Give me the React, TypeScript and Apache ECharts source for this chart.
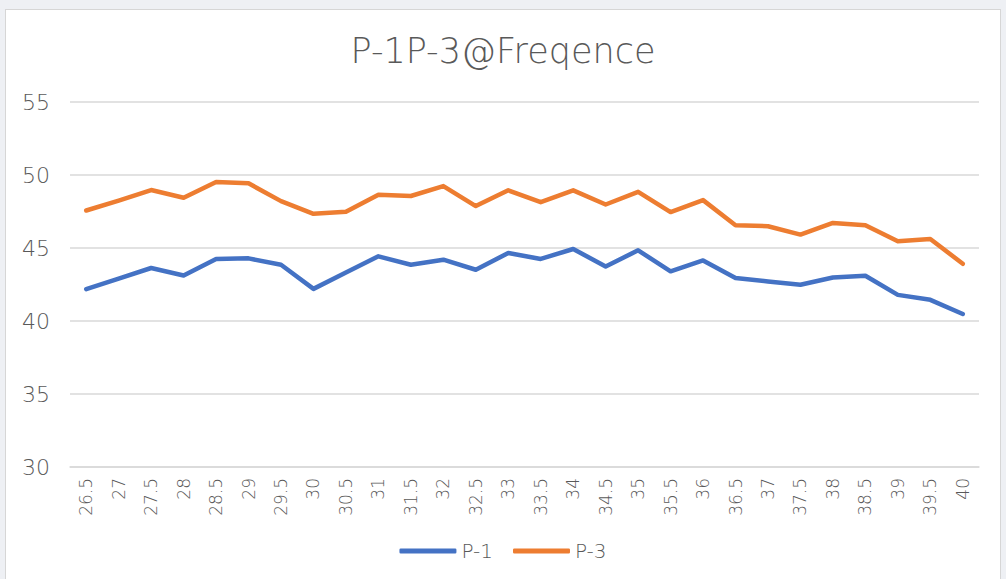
import React, { useEffect, useRef } from "react";
import * as echarts from "echarts";

const categories: string[] = [
  "26.5", "27", "27.5", "28", "28.5", "29", "29.5", "30", "30.5", "31",
  "31.5", "32", "32.5", "33", "33.5", "34", "34.5", "35", "35.5", "36",
  "36.5", "37", "37.5", "38", "38.5", "39", "39.5", "40",
];

const p1Values: number[] = [
  42.18, 42.9, 43.63, 43.12, 44.25, 44.29, 43.85, 42.2, 43.33, 44.43,
  43.85, 44.2, 43.51, 44.66, 44.25, 44.93, 43.74, 44.84, 43.4, 44.15,
  42.94, 42.71, 42.48, 42.98, 43.1, 41.79, 41.45, 40.48,
];

const p3Values: number[] = [
  47.57, 48.25, 48.97, 48.44, 49.52, 49.43, 48.21, 47.34, 47.48, 48.65,
  48.56, 49.24, 47.87, 48.95, 48.14, 48.95, 47.98, 48.85, 47.46, 48.28,
  46.56, 46.49, 45.92, 46.72, 46.56, 45.46, 45.62, 43.92,
];

const seriesNames: string[] = ["P-1", "P-3"];
const titleText = "P-1P-3@Freqence";

const FONT = "'DejaVu Sans', sans-serif";

export default function App() {
  const ref = useRef<HTMLDivElement>(null);

  useEffect(() => {
    if (!ref.current) return;
    const chart = echarts.init(ref.current, undefined, { renderer: "svg" });
    chart.setOption({
      animation: false,
      textStyle: { fontFamily: FONT },
      title: {
        text: titleText,
        left: "center",
        top: 28,
        textStyle: {
          fontFamily: FONT,
          fontSize: 35,
          fontWeight: 200,
          color: "#595959",
        },
      },
      legend: {
        bottom: 13,
        left: "center",
        itemWidth: 57,
        itemHeight: 5,
        itemGap: 20,
        icon: "roundRect",
        data: seriesNames,
        textStyle: { fontFamily: FONT, fontSize: 20, color: "#595959", fontWeight: 200 },
      },
      grid: { left: 70, right: 27, top: 102, bottom: 112, containLabel: false },
      xAxis: {
        type: "category",
        data: categories,
        boundaryGap: true,
        axisLine: { lineStyle: { color: "#d9d9d9", width: 1.5 } },
        axisTick: { show: false },
        axisLabel: {
          rotate: 90,
          interval: 0,
          margin: 11,
          fontSize: 17,
          color: "#595959",
          fontFamily: FONT,
          fontWeight: 200,
        },
      },
      yAxis: {
        type: "value",
        min: 30,
        max: 55,
        interval: 5,
        axisLine: { show: false },
        axisTick: { show: false },
        splitLine: { lineStyle: { color: "#d9d9d9", width: 1.5 } },
        axisLabel: {
          margin: 20,
          fontSize: 22,
          color: "#595959",
          fontFamily: FONT,
          fontWeight: 200,
        },
      },
      series: [
        {
          name: seriesNames[0],
          type: "line",
          data: p1Values,
          showSymbol: false,
          symbol: "none",
          color: "#4472C4",
          lineStyle: { width: 4.5, color: "#4472C4", cap: "round", join: "round" },
        },
        {
          name: seriesNames[1],
          type: "line",
          data: p3Values,
          showSymbol: false,
          symbol: "none",
          color: "#ED7D31",
          lineStyle: { width: 4.5, color: "#ED7D31", cap: "round", join: "round" },
        },
      ],
    });
    return () => chart.dispose();
  }, []);

  return (
    <div style={{ position: "fixed", left: 0, top: 0, width: 1006, height: 579, background: "#eef0f4", overflow: "hidden" }}>
      <div
        style={{
          position: "absolute",
          left: 5,
          top: 9,
          width: 994,
          height: 580,
          background: "#ffffff",
          border: "1.5px solid #d6d6d6",
        }}
      />
      <div ref={ref} style={{ position: "absolute", left: 0, top: 0, width: 1006, height: 579 }} />
    </div>
  );
}
